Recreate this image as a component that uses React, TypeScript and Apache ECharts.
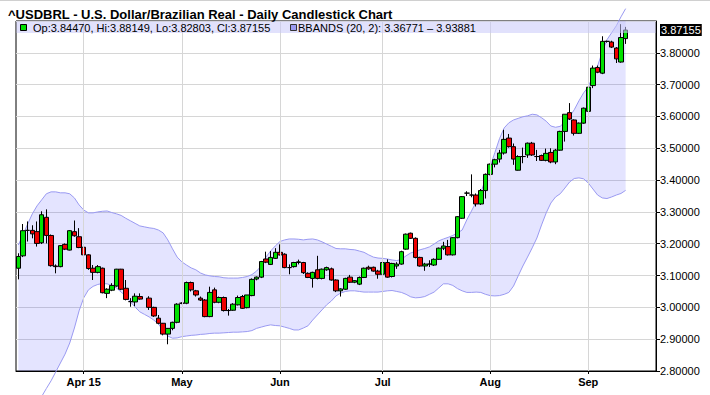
import { useEffect, useRef } from "react";
import * as echarts from "echarts";

const chartTitle = "^USDBRL - U.S. Dollar/Brazilian Real - Daily Candlestick Chart";
const slotCount = 137;
const monthTickIndex = [14, 35, 56, 78, 101, 122];
const monthLabels = ["Apr 15", "May", "Jun", "Jul", "Aug", "Sep"];

const opens = [
  3.123, 3.162, 3.242, 3.242, 3.238, 3.203, 3.283, 3.226, 3.130, 3.128,
  3.198, 3.180, 3.238, 3.222, 3.189, 3.165, 3.123, 3.110, 3.123, 3.044,
  3.054, 3.067, 3.120, 3.060, 3.018, 3.017, 3.034, null, 3.029, 3.000,
  2.966, 2.950, 2.916, 2.934, 2.953, 3.013, 3.013, 3.078, 3.052, 3.029,
  3.023, 2.971, 3.055, 3.016, 3.031, 2.990, 2.991, 3.008, 3.034, 2.999,
  3.037, 3.089, 3.095, 3.152, 3.135, 3.154, 3.173, 3.167, 3.125, 3.128,
  3.141, 3.141, 3.107, 3.091, 3.118, 3.091, 3.118, 3.121, 3.086, 3.052,
  3.057, 3.095, 3.079, 3.073, 3.094, 3.126, 3.126, 3.114, 3.104, 3.141,
  3.097, 3.130, 3.136, 3.183, 3.233, 3.217, 3.157, 3.130, 3.136, 3.133,
  3.151, 3.186, 3.191, 3.165, 3.219, 3.280, 3.359, 3.353, 3.353, 3.325,
  3.367, 3.418, 3.450, 3.466, 3.485, 3.532, 3.505, 3.431, 3.474, 3.479,
  3.516, 3.474, 3.477, 3.462, 3.487, 3.457, 3.494, 3.553, 3.612, 3.589,
  3.547, 3.579, 3.616, 3.697, 3.754, 3.736, 3.836, 3.834, 3.815, 3.771,
  3.8447,
];

const closes = [
  3.160, 3.241, 3.242, 3.231, 3.201, 3.291, 3.226, 3.131, 3.128, 3.194,
  3.183, 3.241, 3.225, 3.188, 3.165, 3.122, 3.110, 3.128, 3.046, 3.057,
  3.069, 3.120, 3.057, 3.025, 3.018, 3.035, 3.026, null, 3.000, 2.973,
  2.950, 2.916, 2.934, 2.953, 3.010, 3.013, 3.078, 3.055, 3.039, 3.023,
  2.971, 3.047, 3.016, 3.031, 2.990, 2.990, 3.010, 3.031, 2.997, 3.039,
  3.088, 3.095, 3.144, 3.142, 3.157, 3.173, 3.165, 3.125, 3.125, 3.141,
  3.143, 3.109, 3.094, 3.110, 3.091, 3.120, 3.125, 3.086, 3.052, 3.058,
  3.091, 3.079, 3.084, 3.094, 3.123, 3.121, 3.114, 3.104, 3.141, 3.095,
  3.138, 3.136, 3.175, 3.230, 3.217, 3.157, 3.130, 3.136, 3.136, 3.151,
  3.186, 3.193, 3.165, 3.219, 3.285, 3.348, 3.359, 3.353, 3.325, 3.367,
  3.418, 3.450, 3.464, 3.485, 3.528, 3.505, 3.466, 3.474, 3.474, 3.516,
  3.479, 3.474, 3.462, 3.484, 3.457, 3.494, 3.553, 3.607, 3.592, 3.547,
  3.579, 3.626, 3.692, 3.752, 3.739, 3.836, 3.836, 3.818, 3.781, 3.848,
  3.87155,
];

const lows = [
  3.088, 3.158, 3.207, 3.217, 3.191, 3.199, 3.201, 3.128, 3.107, 3.126,
  3.180, 3.179, 3.222, 3.186, 3.162, 3.118, 3.086, 3.107, 3.044, 3.029,
  3.051, 3.065, 3.054, 3.022, 3.002, 3.004, 3.024, null, 2.992, 2.970,
  2.947, 2.912, 2.884, 2.928, 2.950, 3.010, 3.010, 3.050, 3.034, 3.020,
  2.969, 2.969, 3.013, 3.013, 2.987, 2.974, 2.989, 3.006, 2.995, 2.997,
  3.035, 3.085, 3.092, 3.139, 3.133, 3.152, 3.163, 3.123, 3.104, 3.125,
  3.135, 3.105, 3.092, 3.062, 3.088, 3.088, 3.115, 3.084, 3.048, 3.034,
  3.055, 3.077, 3.076, 3.070, 3.092, 3.118, 3.112, 3.090, 3.102, 3.093,
  3.094, 3.121, 3.134, 3.181, 3.215, 3.154, 3.128, 3.115, 3.127, 3.130,
  3.149, 3.180, 3.163, 3.163, 3.217, 3.278, 3.350, 3.346, 3.317, 3.322,
  3.342, 3.415, 3.440, 3.455, 3.480, 3.502, 3.448, 3.430, 3.453, 3.470,
  3.476, 3.460, 3.460, 3.459, 3.453, 3.450, 3.492, 3.521, 3.589, 3.540,
  3.545, 3.577, 3.614, 3.689, 3.736, 3.733, 3.832, 3.815, 3.768, 3.769,
  3.82803,
];

const highs = [
  3.170, 3.262, 3.270, 3.258, 3.270, 3.302, 3.308, 3.229, 3.135, 3.196,
  3.201, 3.243, 3.273, 3.249, 3.192, 3.167, 3.133, 3.133, 3.125, 3.060,
  3.076, 3.121, 3.121, 3.086, 3.029, 3.044, 3.044, null, 3.035, 3.002,
  2.976, 2.951, 2.935, 2.955, 3.013, 3.016, 3.081, 3.081, 3.055, 3.034,
  3.026, 3.065, 3.062, 3.034, 3.034, 2.995, 3.013, 3.037, 3.039, 3.039,
  3.091, 3.097, 3.146, 3.175, 3.177, 3.186, 3.198, 3.170, 3.135, 3.143,
  3.150, 3.143, 3.110, 3.112, 3.162, 3.122, 3.128, 3.125, 3.088, 3.060,
  3.093, 3.102, 3.086, 3.097, 3.125, 3.131, 3.128, 3.118, 3.142, 3.151,
  3.140, 3.142, 3.178, 3.232, 3.235, 3.220, 3.159, 3.140, 3.148, 3.154,
  3.188, 3.206, 3.212, 3.221, 3.287, 3.350, 3.365, 3.418, 3.358, 3.372,
  3.421, 3.452, 3.467, 3.495, 3.558, 3.545, 3.515, 3.478, 3.502, 3.518,
  3.520, 3.495, 3.480, 3.499, 3.500, 3.498, 3.555, 3.607, 3.642, 3.591,
  3.581, 3.628, 3.694, 3.760, 3.760, 3.852, 3.838, 3.838, 3.818, 3.890,
  3.88149,
];

const bbUpper = [
  3.196, 3.228, 3.262, 3.294, 3.319, 3.338, 3.357, 3.363, 3.363, 3.360,
  3.360, 3.357, 3.344, 3.322, 3.306, 3.297, 3.297, 3.300, 3.302, 3.303,
  3.298, 3.294, 3.289, 3.280, 3.272, 3.264, 3.256, 3.253, 3.250, 3.248,
  3.243, 3.234, 3.212, 3.184, 3.158, 3.143, 3.133, 3.124, 3.118, 3.108,
  3.102, 3.099, 3.097, 3.096, 3.093, 3.092, 3.092, 3.092, 3.094, 3.097,
  3.103, 3.114, 3.130, 3.158, 3.177, 3.193, 3.207, 3.212, 3.215, 3.215,
  3.214, 3.212, 3.214, 3.215, 3.212, 3.206, 3.199, 3.192, 3.185, 3.184,
  3.184, 3.182, 3.181, 3.177, 3.173, 3.165, 3.158, 3.155, 3.154, 3.152,
  3.149, 3.147, 3.151, 3.162, 3.171, 3.176, 3.181, 3.185, 3.190, 3.199,
  3.209, 3.215, 3.220, 3.226, 3.234, 3.243, 3.275, 3.303, 3.331, 3.360,
  3.404, 3.442, 3.486, 3.530, 3.564, 3.580, 3.589, 3.594, 3.599, 3.602,
  3.607, 3.605, 3.596, 3.585, 3.570, 3.566, 3.569, 3.583, 3.599, 3.621,
  3.649, 3.674, 3.693, 3.728, 3.759, 3.803, 3.841, 3.863, 3.885, 3.913,
  3.93881,
];

const bbLower = [
  2.620, 2.640, 2.660, 2.680, 2.700, 2.720, 2.745, 2.769, 2.797, 2.825,
  2.853, 2.888, 2.935, 2.989, 3.030, 3.055, 3.066, 3.072, 3.075, 3.074,
  3.069, 3.061, 3.048, 3.036, 3.017, 3.001, 2.986, 2.978, 2.970, 2.960,
  2.948, 2.926, 2.910, 2.903, 2.904, 2.908, 2.910, 2.912, 2.913, 2.915,
  2.916, 2.918, 2.919, 2.919, 2.920, 2.921, 2.922, 2.922, 2.923, 2.924,
  2.927, 2.934, 2.938, 2.942, 2.945, 2.943, 2.942, 2.938, 2.934, 2.929,
  2.929, 2.935, 2.942, 2.960, 2.976, 2.992, 3.008, 3.020, 3.036, 3.045,
  3.050, 3.052, 3.052, 3.050, 3.048, 3.048, 3.048, 3.048, 3.050, 3.052,
  3.053, 3.050, 3.047, 3.041, 3.033, 3.030, 3.031, 3.034, 3.041, 3.048,
  3.061, 3.074, 3.074, 3.069, 3.059, 3.052, 3.047, 3.047, 3.048, 3.047,
  3.041, 3.037, 3.036, 3.037, 3.041, 3.047, 3.067, 3.099, 3.130, 3.158,
  3.187, 3.218, 3.259, 3.297, 3.328, 3.347, 3.357, 3.375, 3.394, 3.405,
  3.407, 3.404, 3.391, 3.372, 3.353, 3.344, 3.342, 3.347, 3.353, 3.358,
  3.36771,
];

const FONT = "Liberation Sans";

export default function App() {
  const ref = useRef<HTMLDivElement | null>(null);

  useEffect(() => {
    if (!ref.current) return;
    const chart = echarts.init(ref.current, undefined, { renderer: "svg" });

    const slots = Array.from({ length: slotCount }, (_, i) => String(i));
    const candleData = opens.map((o, i) =>
      o == null ? ["-", "-", "-", "-"] : [o, closes[i], lows[i], highs[i]]
    );
    const bandSpan = bbUpper.map((u, i) => +(u - bbLower[i]).toFixed(5));
    const last = opens.length - 1;
    const lastClose = closes[last] as number;
    const isMonth = (idx: number) => monthTickIndex.indexOf(idx) >= 0;

    const legendText = `Op:${opens[last]!.toFixed(5)}, Hi:${highs[last]!.toFixed(5)}, Lo:${lows[last]!.toFixed(5)}, Cl:${lastClose.toFixed(5)}`;
    const bbText = `BBANDS (20, 2): ${bbLower[last].toFixed(5)} \u2013 ${bbUpper[last].toFixed(5)}`;

    chart.setOption({
      animation: false,
      backgroundColor: "#ffffff",
      title: {
        text: chartTitle,
        left: 3,
        top: 3,
        textStyle: { fontFamily: FONT, fontSize: 13, fontWeight: "bold", color: "#000" },
      },
      grid: {
        left: 16,
        right: 54,
        top: 21,
        bottom: 24,
        show: true,
        borderColor: "#000",
        borderWidth: 1,
        backgroundColor: "transparent",
      },
      xAxis: {
        type: "category",
        data: slots,
        boundaryGap: true,
        axisLine: { show: true, lineStyle: { color: "#000", width: 1 } },
        axisTick: {
          show: true,
          alignWithLabel: true,
          length: 3,
          interval: (idx: number) => isMonth(idx),
          lineStyle: { color: "#000" },
        },
        axisLabel: {
          interval: (idx: number) => isMonth(idx),
          formatter: (_v: string, idx: number) => monthLabels[monthTickIndex.indexOf(idx)] ?? "",
          fontFamily: FONT,
          fontSize: 11,
          fontWeight: "bold",
          color: "#000",
          margin: 5,
        },
        splitLine: { show: false },
      },
      yAxis: {
        type: "value",
        position: "right",
        min: 2.8,
        max: 3.9,
        interval: 0.1,
        axisLine: { show: true, lineStyle: { color: "#000", width: 1 } },
        axisTick: { show: true, length: 4, lineStyle: { color: "#000" } },
        axisLabel: {
          formatter: (v: number) => v.toFixed(5),
          fontFamily: FONT,
          fontSize: 11,
          color: "#000",
          margin: 4,
          showMaxLabel: false,
        },
        splitLine: { show: true, lineStyle: { color: "#d6d6d6", width: 1 } },
      },
      series: [
        {
          name: "bbBase",
          type: "line",
          data: bbLower,
          stack: "bb",
          symbol: "none",
          silent: true,
          lineStyle: { opacity: 0, width: 0 },
          z: 1,
          markLine: {
            silent: true,
            symbol: ["none", "none"],
            label: { show: false },
            lineStyle: { color: "#d6d6d6", type: "solid", width: 1 },
            data: monthTickIndex.map((i) => ({ xAxis: String(i) })),
          },
        },
        {
          name: "bbFill",
          type: "line",
          data: bandSpan,
          stack: "bb",
          symbol: "none",
          silent: true,
          lineStyle: { opacity: 0, width: 0 },
          areaStyle: { color: "rgba(0,0,255,0.15)" },
          z: 2,
        },
        {
          name: "bbUpper",
          type: "line",
          data: bbUpper,
          symbol: "none",
          silent: true,
          clip: false,
          lineStyle: { color: "#9a9af2", width: 1 },
          z: 3,
        },
        {
          name: "bbLower",
          type: "line",
          data: bbLower,
          symbol: "none",
          silent: true,
          clip: false,
          lineStyle: { color: "#9a9af2", width: 1 },
          z: 3,
        },
        {
          name: "USDBRL",
          type: "candlestick",
          data: candleData,
          barWidth: 5,
          silent: true,
          z: 4,
          itemStyle: {
            color: "#00e000",
            color0: "#ee0000",
            borderColor: "#000",
            borderColor0: "#000",
            borderColorDoji: "#000",
            borderWidth: 1,
          },
        },
        {
          name: "lastPrice",
          type: "line",
          data: [],
          symbol: "none",
          silent: true,
          z: 60,
          markLine: {
            silent: true,
            symbol: ["none", "none"],
            precision: 5,
            lineStyle: { color: "rgba(0,0,0,0)", width: 1 },
            label: {
              show: true,
              position: "end",
              distance: 4,
              formatter: () => lastClose.toFixed(5),
              backgroundColor: "#000",
              color: "#fff",
              fontFamily: FONT,
              fontSize: 11,
              padding: [1, 1, 0, 1],
            },
            data: [{ yAxis: lastClose }],
          },
        },
      ],
      graphic: [
        {
          type: "line",
          z: 50,
          shape: { x1: 0, y1: 0.5, x2: 710, y2: 0.5 },
          style: { stroke: "#d0d0d0", lineWidth: 1 },
        },
        {
          type: "rect",
          z: 50,
          shape: { x: 16.5, y: 21.5, width: 639, height: 11.5 },
          style: { fill: "rgba(200,200,250,0.55)" },
        },
        {
          type: "rect",
          z: 51,
          shape: { x: 20.5, y: 24.5, width: 6, height: 6 },
          style: { fill: "#00e000", stroke: "#000", lineWidth: 1 },
        },
        {
          type: "text",
          z: 51,
          x: 33,
          y: 28,
          style: {
            text: legendText,
            fill: "#000",
            fontFamily: FONT,
            fontSize: 11,
            verticalAlign: "middle",
          },
        },
        {
          type: "rect",
          z: 51,
          shape: { x: 290.5, y: 24.5, width: 6, height: 6 },
          style: { fill: "#9a9af2", stroke: "#333", lineWidth: 1 },
        },
        {
          type: "text",
          z: 51,
          x: 298,
          y: 28,
          style: {
            text: bbText,
            fill: "#000",
            fontFamily: FONT,
            fontSize: 11,
            verticalAlign: "middle",
          },
        },
      ],
    });

    return () => chart.dispose();
  }, []);

  return (
    <div
      ref={ref}
      style={{ position: "fixed", left: 0, top: 0, width: 710, height: 395, background: "#fff" }}
    />
  );
}
